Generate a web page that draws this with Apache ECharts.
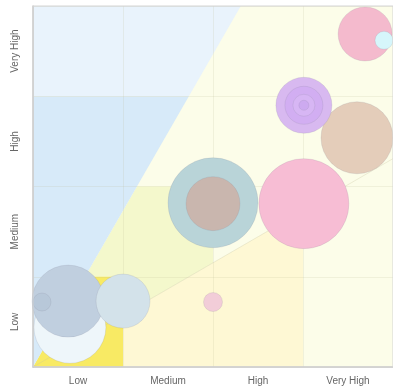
<!DOCTYPE html>
<html>
<head>
<meta charset="utf-8">
<script src="https://cdn.jsdelivr.net/npm/echarts@6/dist/echarts.min.js"></script>
<style>
  html, body { margin: 0; padding: 0; background: #fff; }
  #chart { width: 393px; height: 389px; }
</style>
</head>
<body>
<div id="chart"></div>
<script>
// axis levels (same on both axes)
const levels = ['Low', 'Medium', 'High', 'Very High']

// background risk zones, vertices in data units (0..4 on each axis)
const zoneCream = [[0, 0], [4, 0], [4, 4], [0, 4]]
const zonePaleYellow = [[1, 0], [3, 0], [3, 1.732], [1, 0.577]]
const zoneGreenYellow = [[0, 0], [1.155, 2], [2, 2], [2, 1.155]]
const zoneYellow = [[0, 0], [1, 0], [1, 1], [0.577, 1]]
const zoneBlue = [[0, 0], [1.732, 3], [0, 3]]
const zoneLightBlue = [[0, 3], [1.732, 3], [2.309, 4], [0, 4]]
const zoneLine = [[0, 0], [4, 2.309]]

// bubbles: likelihood (x), impact (y), diameter
const bubbleX = [0.41, 0.39, 0.10, 1.00, 2.00, 2.00, 2.00, 3.01, 3.60, 3.01, 3.01, 3.01, 3.01, 3.69, 3.90]
const bubbleY = [0.44, 0.73, 0.72, 0.73, 0.72, 1.82, 1.81, 1.81, 2.54, 2.90, 2.90, 2.90, 2.90, 3.69, 3.62]
const bubbleSize = [72, 72, 18, 54, 19, 90, 54, 90, 72, 56, 38, 22, 10, 54, 18]

const bubbleColors = ['#eef6fa', '#c0cfdf', '#b8c8d9', '#d3e2ea', '#f2cdd8', '#b9d4d8', '#c9b6ae',
  '#f7bdd4', '#e4cdba', '#d8b9f0', '#d2aef2', '#d7b6f4', '#cdaaf0', '#f4bacd', '#d6f6fb']

const zones = [
  { pts: zoneCream, fill: '#fcfde9' },
  { pts: zonePaleYellow, fill: '#fef8d4' },
  { pts: zoneGreenYellow, fill: '#f4f8cc' },
  { pts: zoneYellow, fill: '#f8ea64' },
  { pts: zoneBlue, fill: '#d7eaf9' },
  { pts: zoneLightBlue, fill: '#e9f3fc' }
]

const chart = echarts.init(document.getElementById('chart'))

const scatterData = []
for (let i = 0; i < bubbleX.length; i++) {
  scatterData.push({
    value: [bubbleX[i], bubbleY[i]],
    symbolSize: bubbleSize[i],
    itemStyle: {
      color: bubbleColors[i],
      opacity: 1,
      borderColor: 'rgba(120,120,140,0.15)',
      borderWidth: 1
    }
  })
}

const labelStyle = {
  color: '#666',
  fontSize: 10,
  fontFamily: 'Liberation Sans, Arial, sans-serif'
}

const option = {
  animation: false,
  grid: {
    left: 33, right: -1, top: 6, bottom: 22,
    show: true, z: 10,
    backgroundColor: 'transparent',
    borderColor: '#d4d4d4', borderWidth: 1
  },
  xAxis: [{
    type: 'value', min: 0, max: 4, interval: 1, z: 5,
    axisLabel: { show: false },
    axisTick: { show: false },
    axisLine: { show: true, lineStyle: { color: '#c8c8c8', width: 1.5 } },
    splitLine: { show: true, lineStyle: { color: 'rgba(190,190,150,0.18)' } }
  }, {
    type: 'category', data: levels, position: 'bottom', boundaryGap: true,
    axisLine: { show: false }, axisTick: { show: false }, splitLine: { show: false },
    axisLabel: Object.assign({ margin: 9 }, labelStyle)
  }],
  yAxis: [{
    type: 'value', min: 0, max: 4, interval: 1, z: 5,
    axisLabel: { show: false },
    axisTick: { show: false },
    axisLine: { show: true, lineStyle: { color: '#c8c8c8', width: 1.5 } },
    splitLine: { show: true, lineStyle: { color: 'rgba(190,190,150,0.18)' } }
  }, {
    type: 'category', data: levels, position: 'left', boundaryGap: true,
    axisLine: { show: false }, axisTick: { show: false }, splitLine: { show: false },
    axisLabel: Object.assign({ margin: 13, rotate: 90 }, labelStyle)
  }],
  series: [{
    type: 'custom',
    z: 0,
    silent: true,
    data: zones.map(function(z, i) { return i }),
    renderItem: function(params, api) {
      const zone = zones[params.dataIndex]
      const points = zone.pts.map(function(p) { return api.coord(p) })
      return {
        type: 'polygon',
        shape: { points: points },
        style: { fill: zone.fill }
      }
    }
  }, {
    type: 'custom',
    z: 1,
    silent: true,
    data: [0],
    renderItem: function(params, api) {
      const a = api.coord(zoneLine[0])
      const b = api.coord(zoneLine[1])
      return {
        type: 'line',
        shape: { x1: a[0], y1: a[1], x2: b[0], y2: b[1] },
        style: { stroke: 'rgba(200,195,160,0.3)', lineWidth: 1 }
      }
    }
  }, {
    type: 'scatter',
    z: 6,
    data: scatterData
  }]
}

chart.setOption(option)
</script>
</body>
</html>
